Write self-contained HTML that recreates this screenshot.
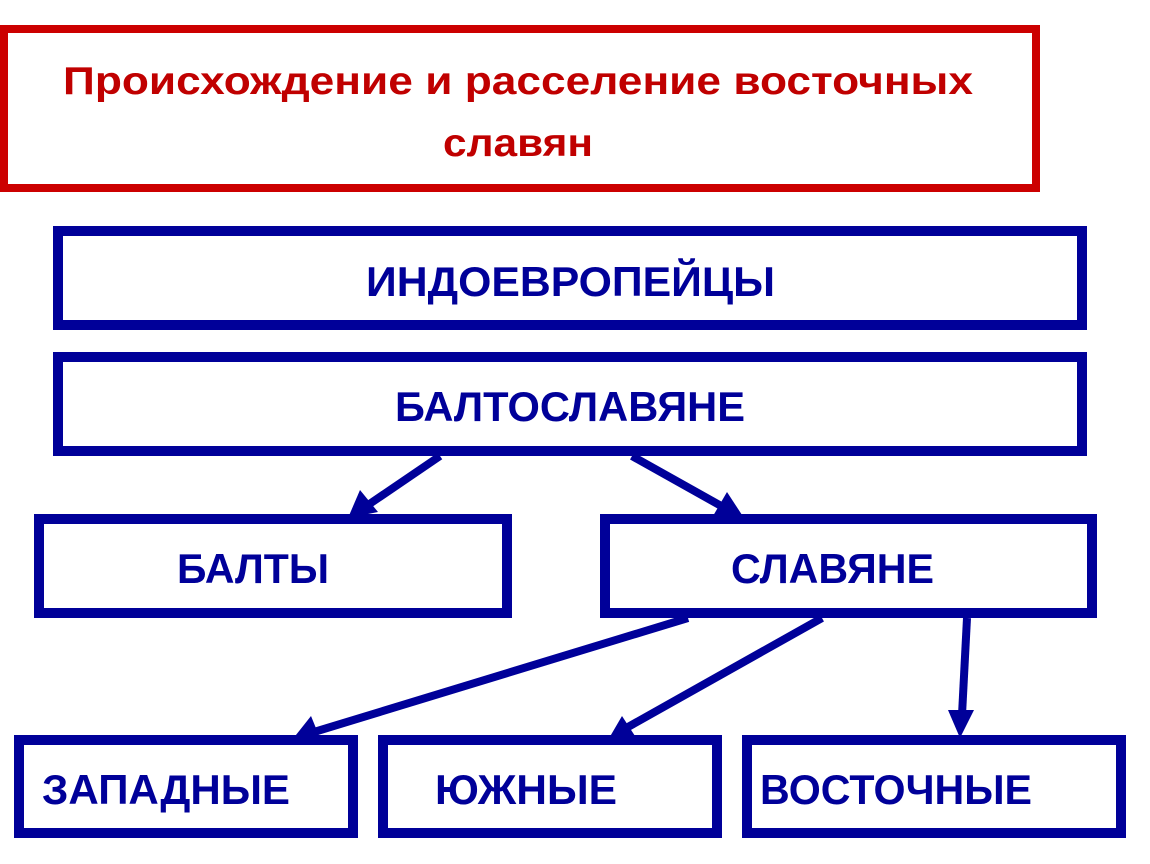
<!DOCTYPE html>
<html><head><meta charset="utf-8"><style>
html,body{margin:0;padding:0;background:#fff;}
svg{display:block;}
text{font-family:"Liberation Sans","DejaVu Sans",sans-serif;font-weight:bold;}
</style></head><body>
<svg width="1150" height="864" viewBox="0 0 1150 864" xmlns="http://www.w3.org/2000/svg">
<rect x="4" y="29" width="1032" height="159" fill="none" stroke="#cc0000" stroke-width="8"/>
<text x="63" y="94" font-size="39" fill="#c00000" textLength="910" lengthAdjust="spacingAndGlyphs">Происхождение и расселение восточных</text>
<text x="443" y="156" font-size="39" fill="#c00000" textLength="150" lengthAdjust="spacingAndGlyphs">славян</text>
<g fill="none" stroke="#000099" stroke-width="10">
<rect x="58" y="231" width="1024" height="94"/>
<rect x="58" y="357" width="1024" height="94"/>
<rect x="39" y="519" width="468" height="94"/>
<rect x="605" y="519" width="487" height="94"/>
<rect x="19" y="740" width="334" height="93"/>
<rect x="383" y="740" width="334" height="93"/>
<rect x="747" y="740" width="374" height="93"/>
<g stroke-width="8">
<line x1="440" y1="456" x2="368" y2="505"/>
<line x1="632" y1="456" x2="723" y2="507"/>
<line x1="688" y1="618" x2="314" y2="732"/>
<line x1="822" y1="618" x2="628" y2="727"/>
<line x1="967" y1="618" x2="962" y2="715"/>
</g>
</g>
<g fill="#000099">
<polygon points="348,518 360,490 378,512"/>
<polygon points="744,518 727,492 713,516"/>
<polygon points="292,740 311,716 320,738"/>
<polygon points="608,740 622,716 635,736"/>
<polygon points="960,738 948,710 974,710"/>
</g>
<g fill="#000099" font-size="42" lengthAdjust="spacingAndGlyphs">
<text x="366" y="296" textLength="409" lengthAdjust="spacingAndGlyphs">ИНДОЕВРОПЕЙЦЫ</text>
<text x="395" y="421" textLength="350" lengthAdjust="spacingAndGlyphs">БАЛТОСЛАВЯНЕ</text>
<text x="177" y="583" textLength="152" lengthAdjust="spacingAndGlyphs">БАЛТЫ</text>
<text x="731" y="583" textLength="203" lengthAdjust="spacingAndGlyphs">СЛАВЯНЕ</text>
<text x="42" y="804" textLength="248" lengthAdjust="spacingAndGlyphs">ЗАПАДНЫЕ</text>
<text x="435" y="804" textLength="182" lengthAdjust="spacingAndGlyphs">ЮЖНЫЕ</text>
<text x="760" y="804" textLength="272" lengthAdjust="spacingAndGlyphs">ВОСТОЧНЫЕ</text>
</g>
</svg>
</body></html>
